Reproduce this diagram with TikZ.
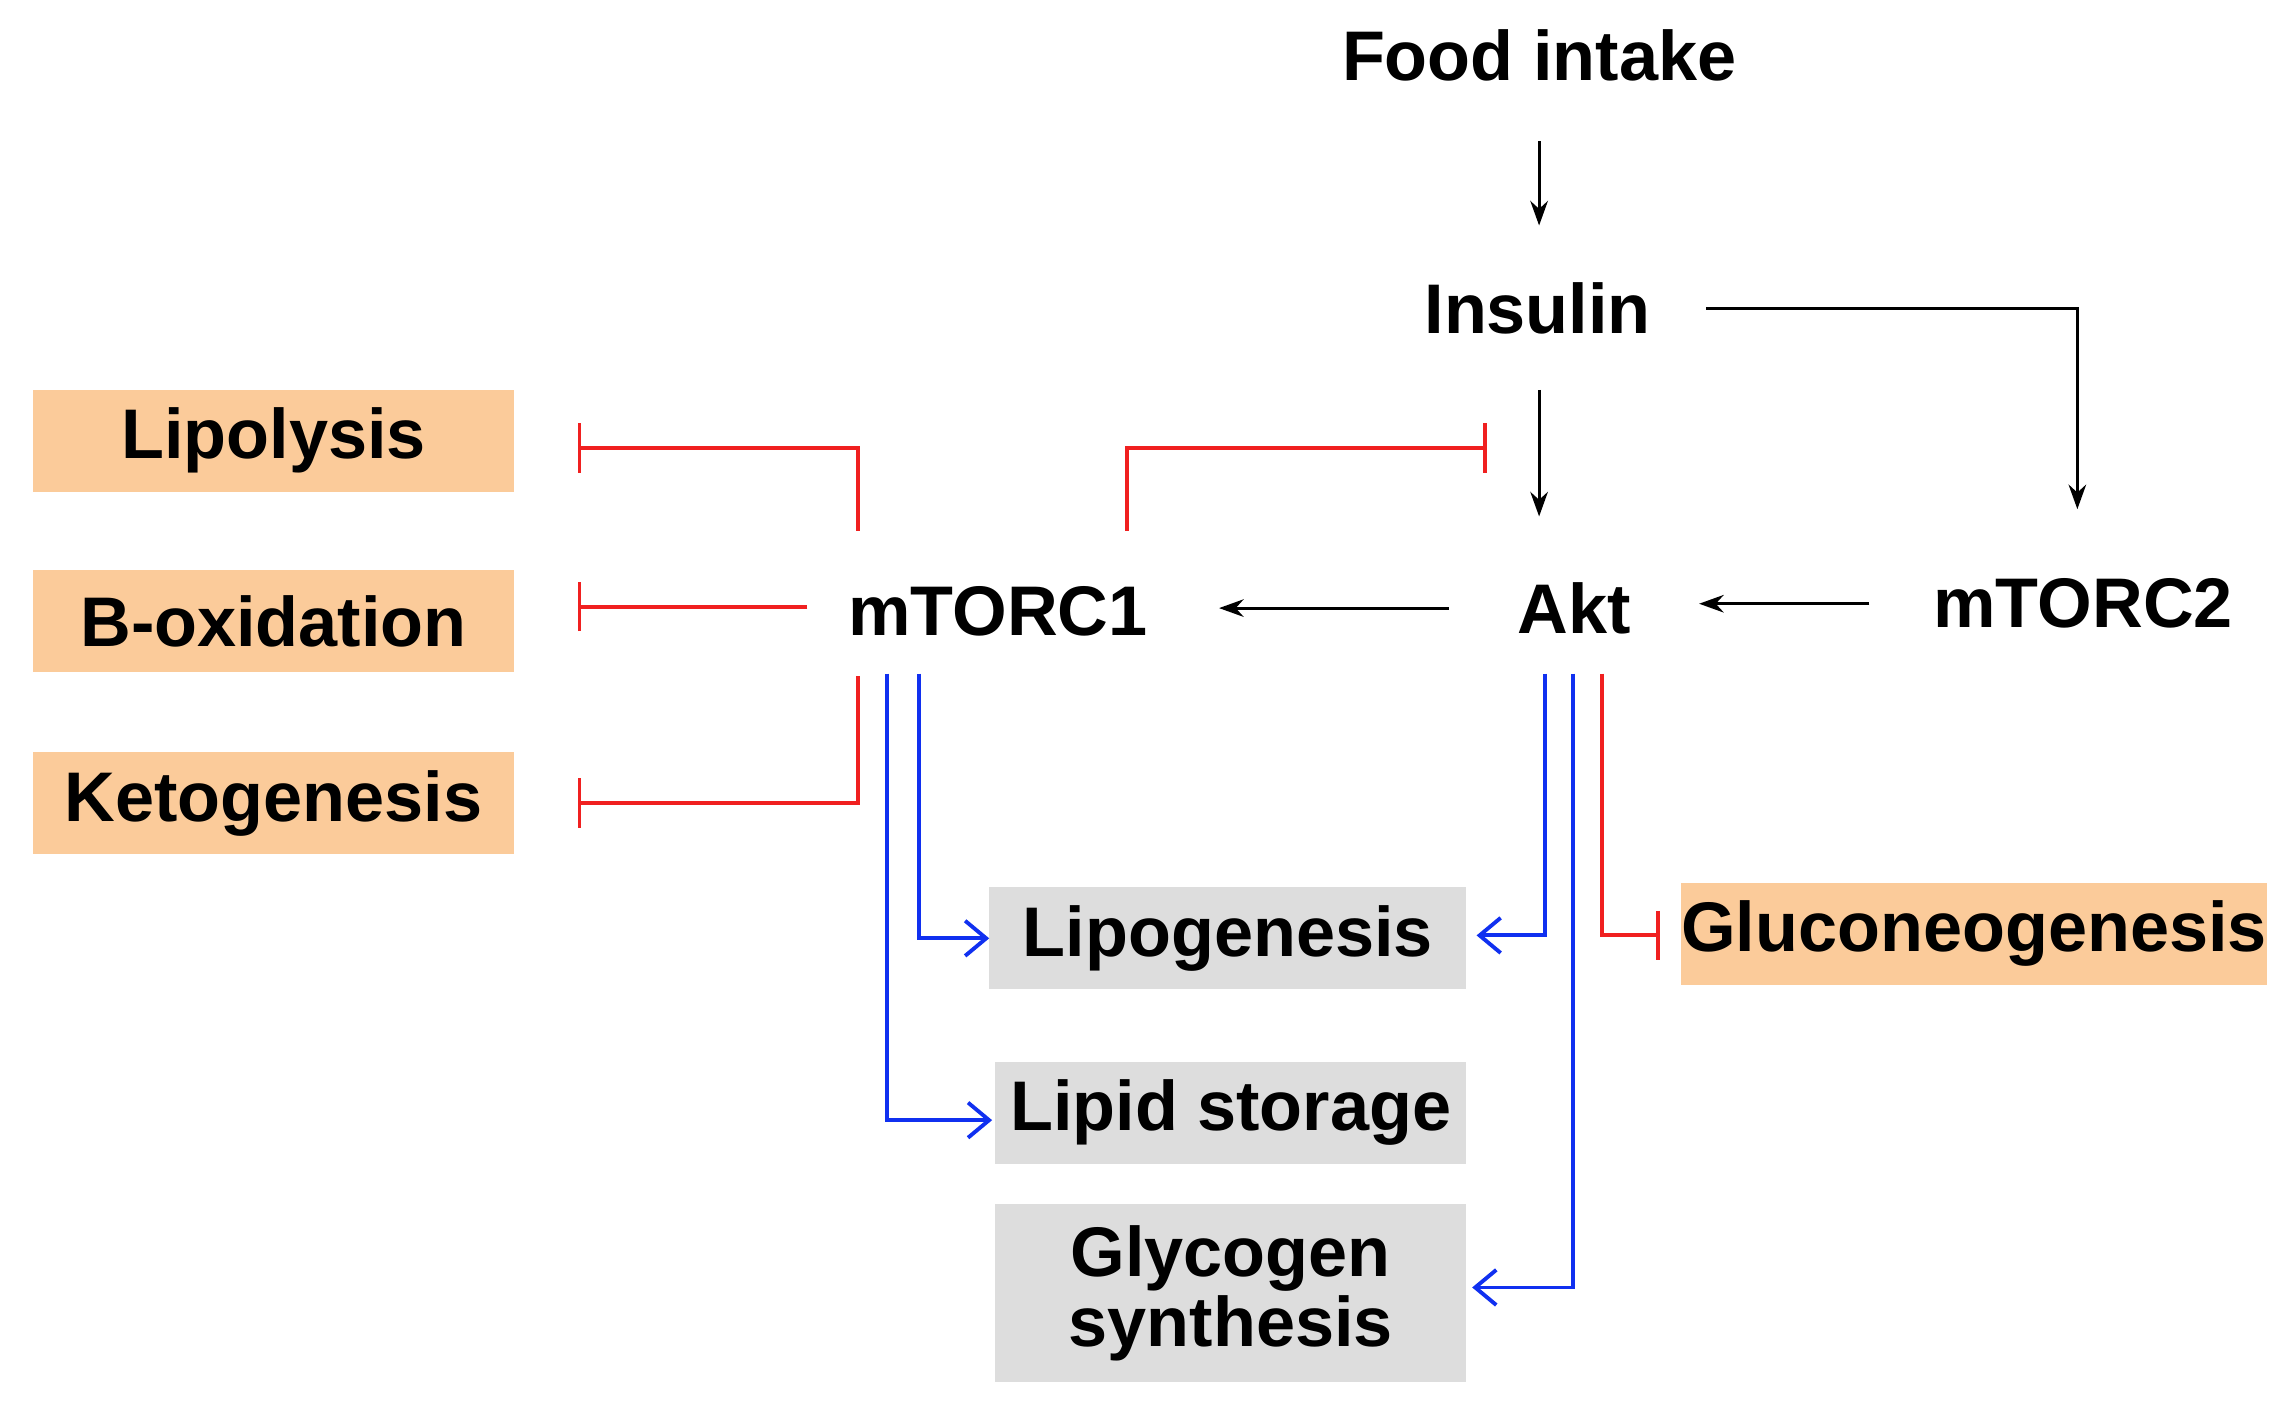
\documentclass[tikz,border=0pt]{standalone}
\usepackage{fontspec}
\setmainfont{Liberation Sans}
\usetikzlibrary{arrows.meta}
\definecolor{orbox}{HTML}{FBCB9A}
\definecolor{grbox}{HTML}{DDDDDD}
\definecolor{inhred}{HTML}{F02020}
\definecolor{actblue}{HTML}{1030F0}
\begin{document}
\begin{tikzpicture}[x=0.01455cm,y=-0.01455cm,
  lbl/.style={font=\fontsize{20}{23}\selectfont\bfseries,align=center},
  obox/.style={lbl,fill=orbox,inner sep=0pt},
  gbox/.style={lbl,fill=grbox,inner sep=0pt},
  act/.style={-{Stealth[length=7pt,width=5pt]},line width=0.8pt,black},
  inh/.style={-{Bar[width=14pt]},line width=1.1pt,inhred},
  blu/.style={-{Straight Barb[length=6pt,width=10pt]},line width=1.1pt,actblue}]
\useasboundingbox (0,0) rectangle (1568,971);
% boxes
\node[obox,minimum width=4.82cm,minimum height=1.02cm] (lipo) at (188,303) {Lipolysis};
\node[obox,minimum width=4.82cm,minimum height=1.02cm] (boxi) at (188,427) {B-oxidation};
\node[obox,minimum width=4.82cm,minimum height=1.02cm] (keto) at (188,552) {Ketogenesis};
\node[gbox,minimum width=4.77cm,minimum height=1.02cm] (lipg) at (844,645) {Lipogenesis};
\node[gbox,minimum width=4.71cm,minimum height=1.02cm] (lips) at (846,765) {Lipid storage};
\node[gbox,minimum width=4.71cm,minimum height=1.78cm] (glyc) at (846,889) {Glycogen\\[-3pt]synthesis};
\node[obox,minimum width=5.85cm,minimum height=1.02cm] (gluc) at (1357,642) {Gluconeogenesis};
% text nodes
\node[lbl] (food) at (1058,38) {Food intake};
\node[lbl] (ins) at (1057,212) {Insulin};
\node[lbl] (m1) at (686,420) {mTORC1};
\node[lbl] (akt) at (1082,418) {Akt};
\node[lbl] (m2) at (1432,415) {mTORC2};
% connector ends
\coordinate (fa) at (1058,97); \coordinate (fb) at (1058,155);
\coordinate (ia) at (1173,212); \coordinate (ib) at (1428,350);
\coordinate (ic) at (1058,268); \coordinate (id) at (1058,355);
\coordinate (m2a) at (1285,415); \coordinate (m2b) at (1168,415);
\coordinate (aka) at (996,418); \coordinate (akb) at (838,418);
\coordinate (r1) at (775,365); \coordinate (r1e) at (1022,308);
\coordinate (r2) at (590,365); \coordinate (r2e) at (397,308);
\coordinate (r3) at (555,417); \coordinate (r3e) at (397,417);
\coordinate (r4) at (590,465); \coordinate (r4e) at (397,552);
\coordinate (b1) at (632,463); \coordinate (b1e) at (680,645);
\coordinate (b2) at (610,463); \coordinate (b2e) at (682,770);
\coordinate (b3) at (1062,463); \coordinate (b3e) at (1015,643);
\coordinate (b4) at (1081,463); \coordinate (b4e) at (1012,885);
\coordinate (r5) at (1101,463); \coordinate (r5e) at (1141,643);
% black
\draw[act] (fa) -- (fb);
\draw[act] (ia) -| (ib);
\draw[act] (ic) -- (id);
\draw[act] (m2a) -- (m2b);
\draw[act] (aka) -- (akb);
% red
\draw[inh] (r1) |- (r1e);
\draw[inh] (r2) |- (r2e);
\draw[inh] (r3) -- (r3e);
\draw[inh] (r4) |- (r4e);
\draw[inh] (r5) |- (r5e);
% blue
\draw[blu] (b1) |- (b1e);
\draw[blu] (b2) |- (b2e);
\draw[blu] (b3) |- (b3e);
\draw[blu] (b4) |- (b4e);
\end{tikzpicture}
\end{document}
